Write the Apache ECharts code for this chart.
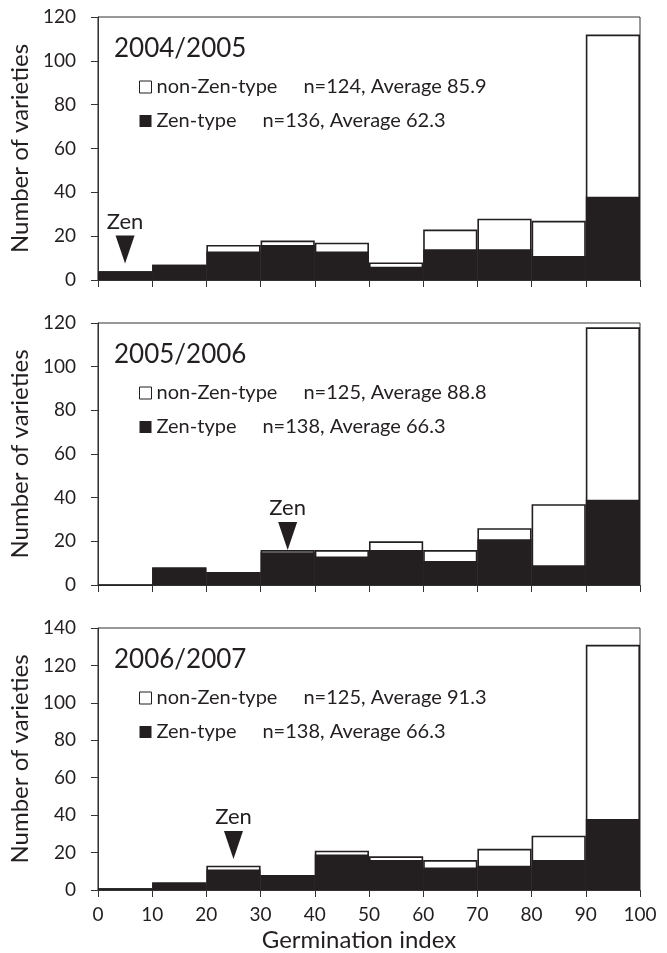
<!DOCTYPE html>
<html><head><meta charset="utf-8">
<script src="https://cdn.jsdelivr.net/npm/echarts@6/dist/echarts.min.js"></script>
<style>html,body{margin:0;padding:0;background:#fff}#c{width:667px;height:953px}</style>
</head><body><div id="c"></div>
<script>
// ---- data ----
const binEdges = [0, 10, 20, 30, 40, 50, 60, 70, 80, 90, 100];
const seasons = ['2004/2005', '2005/2006', '2006/2007'];
const zen2004 = [4, 7, 13, 16, 13, 6, 14, 14, 11, 38];
const nonZen2004 = [0, 0, 3, 2, 4, 2, 9, 14, 16, 74];
const zen2005 = [0, 8, 6, 15, 13, 16, 11, 21, 9, 39];
const nonZen2005 = [0, 0, 0, 1, 3, 4, 5, 5, 28, 79];
const zen2006 = [1, 4, 11, 8, 19, 16, 12, 13, 16, 38];
const nonZen2006 = [0, 0, 2, 0, 2, 2, 4, 9, 13, 93];
const nonZenStats = ['n=124, Average 85.9', 'n=125, Average 88.8', 'n=125, Average 91.3'];
const zenStats = ['n=136, Average 62.3', 'n=138, Average 66.3', 'n=138, Average 66.3'];
const zenMarkX = [5, 35, 25];
const zenMarkY = [7.5, 16, 16.5];
const yMax = [120, 120, 140];
const xAxisTitle = 'Germination index';
const yAxisTitle = 'Number of varieties';

// ---- layout ----
const FONT = 'Lato';
const INK = '#231f20';
const panelTops = [17, 323, 628];
const panelHeights = [263, 262, 263];
const gridLeft = 94, gridWidth = 546;

const zenSets = [zen2004, zen2005, zen2006];
const nonZenSets = [nonZen2004, nonZen2005, nonZen2006];
const centers = binEdges.slice(0, -1).map((e, i) => (e + binEdges[i + 1]) / 2);

const grid = [], xAxis = [], yAxis = [], series = [], legend = [], title = [];
for (let p = 0; p < 3; p++) {
  const top = panelTops[p];
  grid.push({left: gridLeft, width: gridWidth, top: top, height: panelHeights[p],
    show: true, borderColor: '#333', borderWidth: 1, backgroundColor: 'transparent', containLabel: false});
  const last = p === 2;
  xAxis.push({type: 'value', gridIndex: p, min: binEdges[0], max: binEdges[binEdges.length - 1], interval: 10,
    axisLine: {show: true, lineStyle: {color: '#333', width: 1}},
    axisTick: {show: true, length: 7, lineStyle: {color: '#333'}},
    splitLine: {show: false},
    axisLabel: {show: last, fontFamily: FONT, fontSize: 19, color: INK, margin: 15},
    name: last ? xAxisTitle : '', nameLocation: 'middle', nameGap: 38,
    nameTextStyle: {fontFamily: FONT, fontSize: 24, color: INK, padding: [0, 20, 0, 0]}});
  yAxis.push({type: 'value', gridIndex: p, min: 0, max: yMax[p], interval: 20,
    axisLine: {show: true, lineStyle: {color: '#333', width: 1}},
    axisTick: {show: true, length: 7, lineStyle: {color: '#333'}},
    splitLine: {show: false},
    axisLabel: {fontFamily: FONT, fontSize: 19, color: INK, margin: 22},
    name: yAxisTitle, nameLocation: 'middle', nameGap: 51,
    nameTextStyle: {fontFamily: FONT, fontSize: 24, color: INK}});
  const totals = zenSets[p].map((z, i) => z + nonZenSets[p][i]);
  series.push({type: 'bar', name: 'non-Zen-type', xAxisIndex: p, yAxisIndex: p,
    barWidth: '100%', barGap: '-100%', barCategoryGap: '0%',
    itemStyle: {color: '#ffffff', borderColor: INK, borderWidth: 1.6},
    data: centers.map((c, i) => [c, totals[i]])});
  series.push({type: 'bar', name: 'Zen-type', xAxisIndex: p, yAxisIndex: p,
    barWidth: '100%', barGap: '-100%', barCategoryGap: '0%',
    itemStyle: {color: INK, borderWidth: 0},
    data: centers.map((c, i) => [c, zenSets[p][i]])});
  series.push({type: 'scatter', name: 'Zen', xAxisIndex: p, yAxisIndex: p, silent: true,
    symbol: 'path://M0,0L20,0L10,30Z', symbolSize: [19, 28], symbolOffset: [0, '-50%'],
    itemStyle: {color: INK, opacity: 1},
    label: {show: true, formatter: 'Zen', position: 'top', distance: 3,
      fontFamily: FONT, fontSize: 22, color: INK, opacity: 1},
    data: [[zenMarkX[p], zenMarkY[p]]], z: 5});
  const stats = {'non-Zen-type': nonZenStats[p], 'Zen-type': zenStats[p]};
  legend.push({orient: 'vertical', left: 134, top: top + 55, itemGap: 14,
    itemWidth: 12, itemHeight: 12, icon: 'rect', selectedMode: false,
    data: [{name: 'non-Zen-type', itemStyle: {color: '#fff', borderColor: INK, borderWidth: 1}},
           {name: 'Zen-type', itemStyle: {color: INK, borderWidth: 0}}],
    formatter: (name) => '{a|' + name + '}{b|' + stats[name] + '}',
    textStyle: {fontFamily: FONT, fontSize: 20, color: INK,
      rich: {a: {fontFamily: FONT, fontSize: 20, color: INK},
             b: {fontFamily: FONT, fontSize: 20, color: INK, padding: [0, 0, 0, 26]}}}});
  title.push({text: seasons[p], left: 109, top: top + 14,
    textStyle: {fontFamily: FONT, fontSize: 26, fontWeight: 'normal', color: INK}});
}

const chart = echarts.init(document.getElementById('c'), null, {renderer: 'canvas'});
chart.setOption({animation: false, backgroundColor: '#fff', grid, xAxis, yAxis, series, legend, title});
</script>
</body></html>
